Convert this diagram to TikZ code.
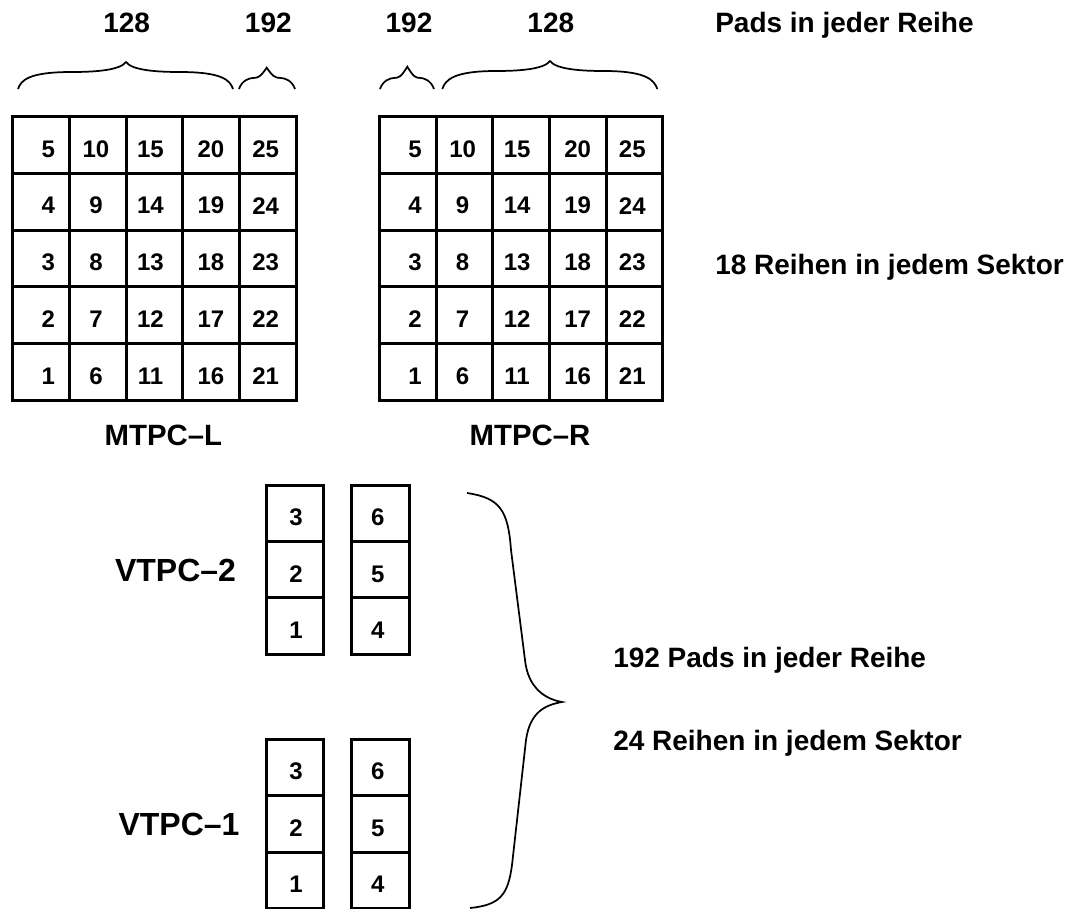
\documentclass[tikz,border=0pt]{standalone}
\usepackage{fontspec}
\setmainfont{Liberation Sans}
\newcommand\mybrace[6]{% x1 x2 xm yb yf yt
  \pgfmathsetmacro\qa{(#1+#3)/2}
  \pgfmathsetmacro\qb{(#2+#3)/2}
  \draw[bracel] (#1,#4) .. controls ({#1+3},{#4-9}) and ({#1+11},#5) .. (\qa,#5)
    .. controls ({#3-0.3*(#3-#1)},#5) and ({#3-6},{#5-1.5}) .. (#3,#6)
    .. controls ({#3+6},{#5-1.5}) and ({#3+0.3*(#2-#3)},#5) .. (\qb,#5)
    .. controls ({#2-11},#5) and ({#2-3},{#4-9}) .. (#2,#4);
}
\begin{document}
\begin{tikzpicture}[x=0.75pt,y=-0.75pt,
  gridl/.style={line width=2.25pt},
  bracel/.style={line width=1.3pt},
  cellnum/.style={font=\fontsize{18}{20}\selectfont\bfseries, inner sep=0pt},
  lbl/.style={font=\fontsize{21}{25}\selectfont\bfseries, inner sep=0pt},
  mid/.style={font=\fontsize{22}{26}\selectfont\bfseries, inner sep=0pt},
  big/.style={font=\fontsize{24}{28}\selectfont\bfseries, inner sep=0pt}]
\useasboundingbox (0,0) rectangle (1070,909);

% ---- MTPC grids ----
\foreach \g/\xo in {L/12.7,R/379.3}{
  \draw[gridl] (\xo,116.7) rectangle ({\xo+283.5},400.2);
  \foreach \k in {1,...,4}{
    \draw[gridl] ({\xo+\k*56.7},116.7) -- ({\xo+\k*56.7},400.2);
    \draw[gridl] (\xo,{116.7+\k*56.7}) -- ({\xo+283.5},{116.7+\k*56.7});
  }
  \foreach \c/\o in {0/35.7,1/83.3,2/137.8,3/198.3,4/253}{
    \foreach \r in {0,...,4}{
      \pgfmathtruncatemacro\n{\c*5+5-\r}
      \node[cellnum] (\g\n) at ({\xo+\o},{149+\r*56.7}) {\n};
    }
  }
}

% ---- VTPC boxes ----
\foreach \v/\yo/\ty in {2/485/517.7, 1/739.3/771.7}{
  \foreach \col/\xl/\tx/\base in {a/266/296/0, b/351.7/377.7/3}{
    \draw[gridl] (\xl,\yo) rectangle ({\xl+57.3},{\yo+169});
    \draw[gridl] (\xl,{\yo+56.4}) -- ({\xl+57.3},{\yo+56.4});
    \draw[gridl] (\xl,{\yo+112.8}) -- ({\xl+57.3},{\yo+112.8});
    \foreach \r in {0,1,2}{
      \pgfmathtruncatemacro\n{\base+3-\r}
      \node[cellnum] (V\v\col\n) at (\tx,{\ty+\r*56.2}) {\n};
    }
  }
}

% ---- top braces ----
\mybrace{18}{233}{126}{89}{72}{62}
\mybrace{239}{295}{266.7}{89}{78}{67.7}
\mybrace{380}{434}{407.3}{89}{78}{66.7}
\mybrace{442.3}{657.3}{550}{89}{71}{61}

% ---- right big brace ----
\draw[bracel] (467,493) .. controls (500,498) and (508,510) .. (511,550)
  -- (525,660) .. controls (528,688) and (545,699) .. (562,702)
  .. controls (545,705) and (530,712) .. (526,740)
  -- (512,865) .. controls (508,895) and (500,905) .. (470,908);

% ---- labels ----
\node[lbl, anchor=base] (t128L) at (126.7,33) {128};
\node[lbl, anchor=base] (t192L) at (268.3,33) {192};
\node[lbl, anchor=base] (t192R) at (409,33) {192};
\node[lbl, anchor=base] (t128R) at (550.8,33) {128};
\node[lbl, anchor=base west] (pads) at (715,33) {Pads in jeder Reihe};
\node[lbl, anchor=base west] (reihen18) at (715,274) {18 Reihen in jedem Sektor};
\node[lbl, anchor=base west] (pads192) at (613,667) {192 Pads in jeder Reihe};
\node[lbl, anchor=base west] (reihen24) at (613,750) {24 Reihen in jedem Sektor};

\node[mid, anchor=base] (mtpcl) at (163.4,445) {MTPC–L};
\node[mid, anchor=base] (mtpcr) at (530,445) {MTPC–R};
\node[big, anchor=base] (vtpc2) at (175.5,581.7) {VTPC–2};
\node[big, anchor=base] (vtpc1) at (179,835) {VTPC–1};
\end{tikzpicture}
\end{document}
